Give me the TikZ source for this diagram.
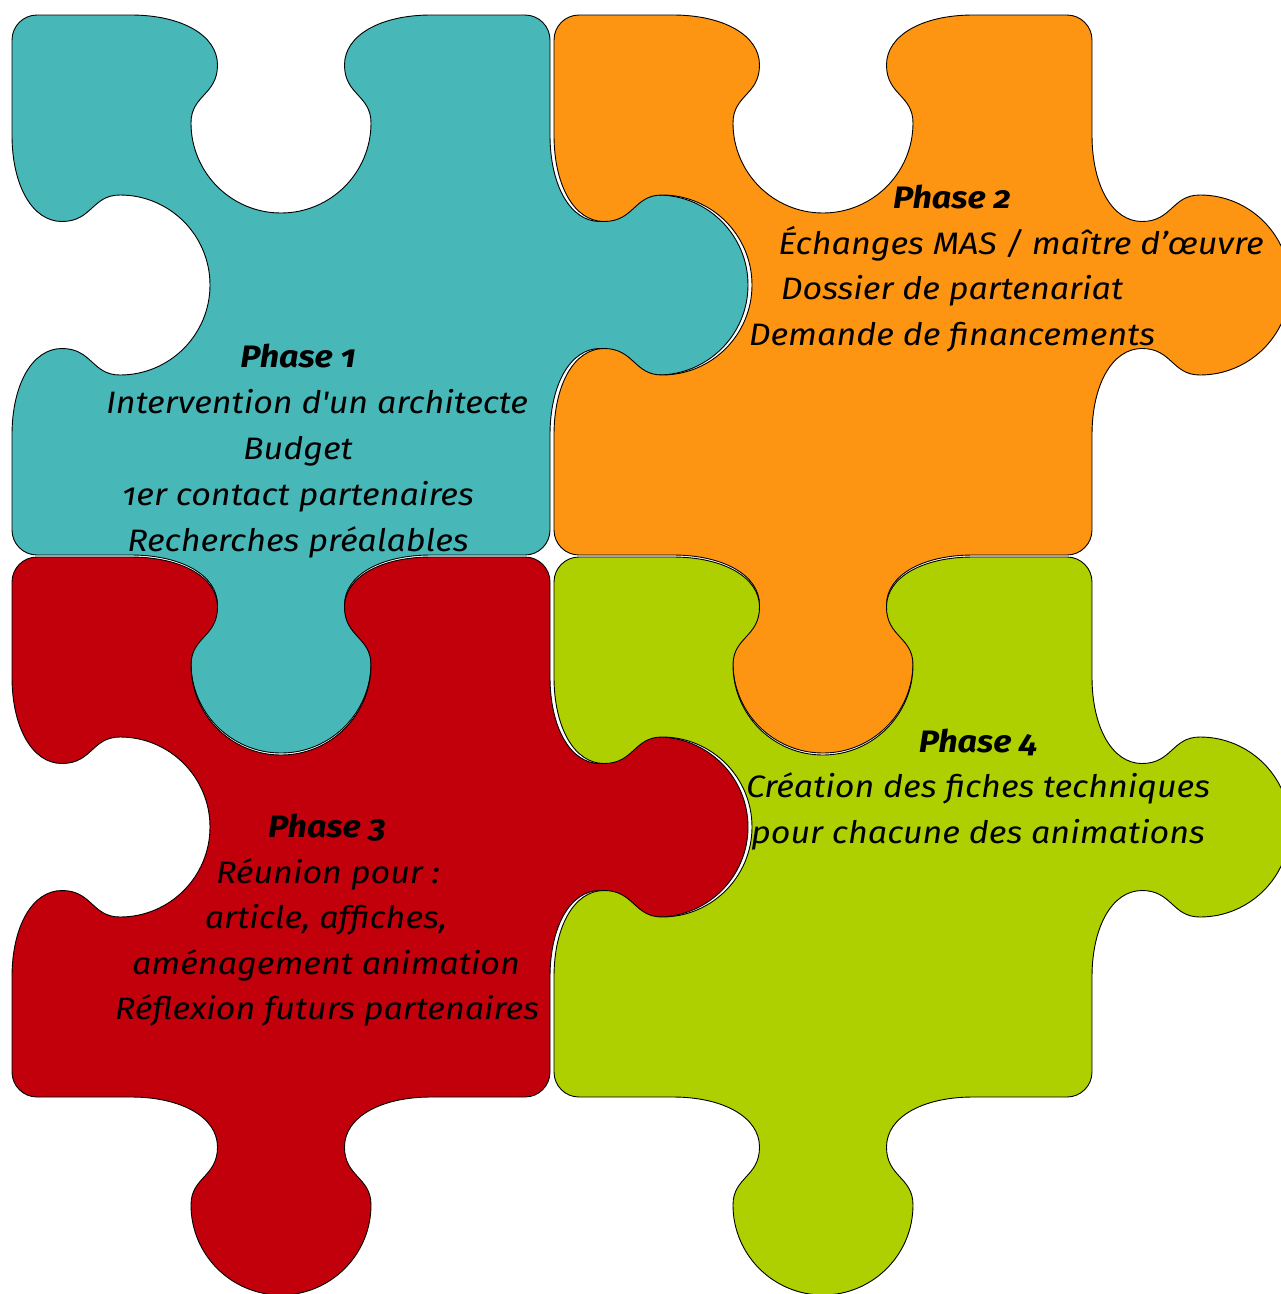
\documentclass[tikz,border=0pt]{standalone}
\usepackage{fontspec}
\newfontfamily\phasefont{Fira Sans}[Numbers=OldStyle, FakeStretch=1.1]
\definecolor{pteal}{RGB}{72,183,184}
\definecolor{porange}{RGB}{253,148,18}
\definecolor{pred}{RGB}{193,0,11}
\definecolor{pgreen}{RGB}{175,208,0}
\newcommand\rc{25}
\newcommand\kc{13.8}
% knob profile: u along the edge, v away from the edge line
\newcommand\knob[1]{%
 -- ([#1]-150,0)
 .. controls ([#1]-100,0) and ([#1]-63.5,20) .. ([#1]-63.5,50)
 .. controls ([#1]-63.5,80) and ([#1]-90,80) .. ([#1]-90,108)
 .. controls ([#1]-90,157.7) and ([#1]-49.7,198) .. ([#1]0,198)
 .. controls ([#1]49.7,198) and ([#1]90,157.7) .. ([#1]90,108)
 .. controls ([#1]90,80) and ([#1]63.5,80) .. ([#1]63.5,50)
 .. controls ([#1]63.5,20) and ([#1]100,0) .. ([#1]150,0)}
\newcommand\piece[5]{%
 \pgfmathsetmacro\pcx{(#1+#3)/2}%
 \pgfmathsetmacro\pcy{(#2+#4)/2}%
 \path[piecestyle, fill=#5]
  (#1+\rc,#2) \knob{shift={(\pcx,#2)}}
  -- (#3-\rc,#2) .. controls (#3-\rc+\kc,#2) and (#3,#2+\rc-\kc) .. (#3,#2+\rc)
  \knob{shift={(#3,\pcy)},rotate=-90,yscale=-1}
  -- (#3,#4-\rc) .. controls (#3,#4-\rc+\kc) and (#3-\rc+\kc,#4) .. (#3-\rc,#4)
  \knob{shift={(\pcx,#4)},rotate=180,yscale=-1}
  -- (#1+\rc,#4) .. controls (#1+\rc-\kc,#4) and (#1,#4-\rc+\kc) .. (#1,#4-\rc)
  \knob{shift={(#1,\pcy)},rotate=90}
  -- (#1,#2+\rc) .. controls (#1,#2+\rc-\kc) and (#1+\rc-\kc,#2) .. (#1+\rc,#2) -- cycle;}
\tikzset{
 piecestyle/.style={draw=black, line width=0.9pt},
 lbl/.style={anchor=base, inner sep=0pt, text=black, font=\phasefont\fontsize{31}{36}\selectfont\itshape},
 ttl/.style={anchor=base, inner sep=0pt, text=black, font=\phasefont\fontsize{31}{36}\selectfont\bfseries\itshape}
}
\begin{document}
\begin{tikzpicture}[x=1pt,y=-1pt]
\useasboundingbox (0,0) rectangle (1281,1294);
\clip (0,0) rectangle (1281,1294);
\piece{12}{15}{550}{555}{pteal}
\piece{554}{15}{1092}{555}{porange}
\piece{12}{557}{550}{1097}{pred}
\piece{554}{557}{1092}{1097}{pgreen}
% Phase 1
\node[ttl] (p1t) at (298,367) {Phase 1};
\node[lbl] (p1a) at (317,413) {Intervention d'un architecte};
\node[lbl] (p1b) at (298,459) {Budget};
\node[lbl] (p1c) at (298,505) {1er contact partenaires};
\node[lbl] (p1d) at (298,551) {Recherches préalables};
% Phase 2
\node[ttl] (p2t) at (952,208) {Phase 2};
\node[lbl] (p2a) at (1021,254) {Échanges MAS / maître d’œuvre};
\node[lbl] (p2b) at (952,299) {Dossier de partenariat};
\node[lbl] (p2c) at (952,345) {Demande de financements};
% Phase 3
\node[ttl] (p3t) at (327,837) {Phase 3};
\node[lbl] (p3a) at (328,883) {Réunion pour :};
\node[lbl] (p3b) at (326,928) {article, affiches,};
\node[lbl] (p3c) at (326,974) {aménagement animation};
\node[lbl] (p3d) at (327,1019) {Réflexion futurs partenaires};
% Phase 4
\node[ttl] (p4t) at (978,752) {Phase 4};
\node[lbl] (p4a) at (978,797) {Création des fiches techniques};
\node[lbl] (p4b) at (978,843) {pour chacune des animations};
\end{tikzpicture}
\end{document}
